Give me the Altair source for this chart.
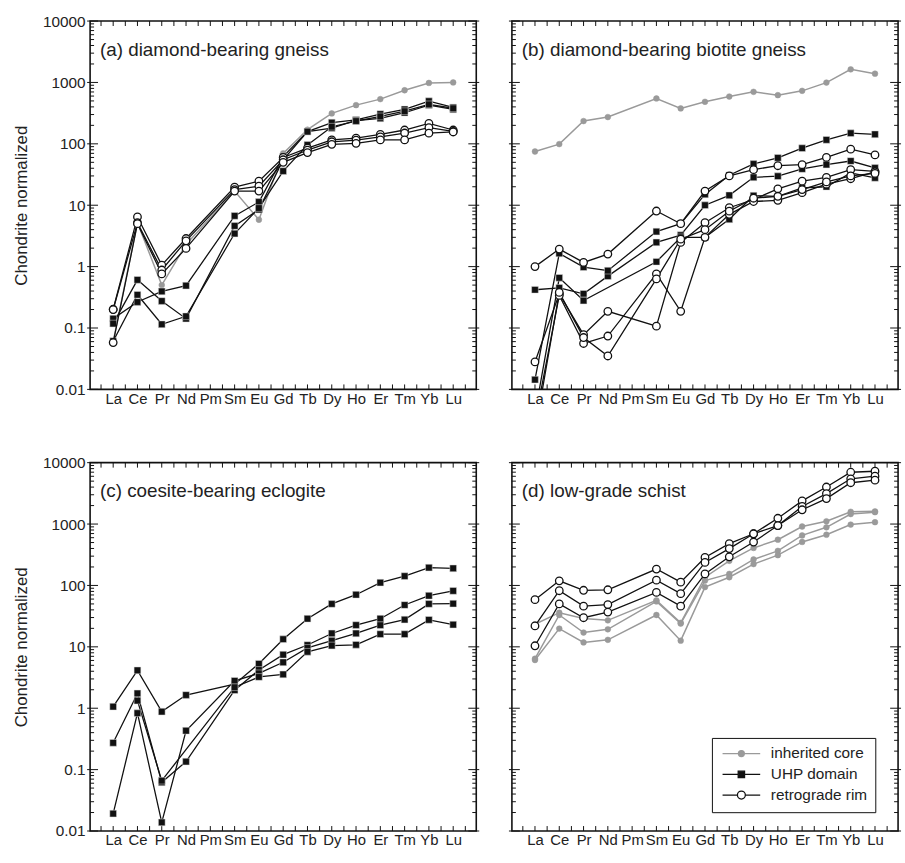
import altair as alt
import pandas as pd

FONT = "Liberation Sans"
GRAY = "#9a9a9a"
BLACK = "#111111"

ELEMENTS = ["La", "Ce", "Pr", "Nd", "Pm", "Sm", "Eu", "Gd", "Tb", "Dy", "Ho", "Er", "Tm", "Yb", "Lu"]
ZNUM = [57, 58, 59, 60, 61, 62, 63, 64, 65, 66, 67, 68, 69, 70, 71]
TYPES = ["inherited core", "UHP domain", "retrograde rim"]
TITLES = ["(a) diamond-bearing gneiss", "(b) diamond-bearing biotite gneiss",
          "(c) coesite-bearing eclogite", "(d) low-grade schist"]
Y_LABEL = "Chondrite normalized"

# ---- panel (a) ----
A_CORE = [
    [0.06, 5.2, 0.5, 2.3, None, 17, 5.8, 70, 170, 313, 427, 535, 746, 982, 1000],
]
A_UHP = [
    [0.142, 0.265, 0.394, 0.49, None, 6.7, 11.3, 62, 158, 222, 245, 306, 364, 495, 392],
    [0.118, 0.608, 0.275, 0.142, None, 4.6, 8.5, 55, 158, 180, 240, 260, 321, 427, 364],
    [0.061, 0.348, 0.115, 0.155, None, 3.46, 9.0, 36, 96, 190, 235, 280, 340, 440, 380],
]
A_RIM = [
    [0.202, 6.44, 1.06, 2.87, None, 19.7, 24.6, 60, 85, 116, 124, 143, 168, 216, 168],
    [0.2, 5.2, 0.88, 2.63, None, 18, 20.4, 55, 79, 108, 115, 130, 150, 184, 160],
    [0.058, 5.0, 0.76, 1.98, None, 17, 17, 50, 72, 98, 102, 116, 116, 149, 156],
]
# ---- panel (b) ----
B_CORE = [
    [75, 99, 235, 273, None, 548, 378, 484, 590, 703, 621, 730, 995, 1633, 1390],
]
B_UHP = [
    [0.42, 0.45, 0.36, 0.70, None, 2.48, 3.25, 10, 14.5, 28.5, 29.7, 39, 46, 52.5, 40.5],
    [0.0144, 1.64, 0.98, 0.86, None, 3.73, 5.0, 15, 30.8, 47, 59, 85, 116, 149, 143],
    [0.004, 0.656, 0.28, None, None, 1.2, 3.0, 3.0, 5.9, 14.3, 13.9, 19.2, 20, 33.6, 27.9],
]
B_RIM = [
    [1.0, 1.93, 1.17, 1.6, None, 8.05, 5.0, 17, 30, 38, 44, 45.7, 60, 82, 66],
    [0.028, 0.36, 0.078, 0.187, None, 0.107, 2.48, 5.2, 9.1, 12.4, 18.5, 24.6, 28.5, 38, 35.7],
    [0.003, 0.34, 0.056, 0.074, None, 0.76, 0.187, 3.0, 7.1, 11.5, 12, 16, 22, 27, 35],
    [0.002, 0.38, 0.07, 0.035, None, 0.63, 2.8, 4.0, 8.0, 13, 14, 18, 24, 30, 33],
]
# ---- panel (c) ----
C_UHP = [
    [1.06, 4.14, 0.88, 1.64, None, 2.46, 5.3, 13.3, 28.7, 50, 70.6, 111, 142, 195, 190],
    [0.273, 1.74, 0.062, 0.135, None, 1.97, 4.2, 7.45, 10.7, 16.5, 22.6, 28.7, 48, 68, 81.5],
    [0.0192, 0.83, 0.0138, 0.43, None, 2.79, 3.7, 5.6, 9.6, 12.6, 16.5, 22.5, 27.8, 50, 50.5],
    [None, 1.33, 0.066, None, None, 2.2, 3.23, 3.55, 8.3, 10.5, 10.8, 16.1, 16.1, 27.5, 23],
]
# ---- panel (d) ----
D_CORE = [
    [23.3, 36, 29, 27, None, 57, 24.6, 136, 252, 408, 556, 912, 1109, 1585, 1610],
    [6.4, 33, 17.1, 19.3, None, 55, 23.9, 120, 154, 265, 366, 653, 885, 1456, 1560],
    [6.1, 19.8, 11.8, 13, None, 33, 12.6, 94, 136, 223, 311, 511, 670, 980, 1072],
]
D_RIM = [
    [58.7, 119, 83.4, 85, None, 185, 113, 286, 480, 695, 1242, 2386, 4010, 6980, 7250],
    [21.9, 82, 46, 48.8, None, 122, 73.5, 237, 398, 695, 944, 1936, 3133, 5460, 6020],
    [10.4, 50, 29.8, 36.8, None, 77, 46, 154, 293, 510, 944, 1709, 2600, 4710, 5190],
]

Y_MAJOR = [0.01, 0.1, 1, 10, 100, 1000, 10000]
Y_MINOR = [m * 10.0 ** e for e in range(-2, 4) for m in range(2, 10)]
X_TICKS = [56.5 + 0.5 * i for i in range(31)]

W, H = 390, 372


def long_df(series_list, kind):
    rows = []
    for i, s in enumerate(series_list):
        for z, el, v in zip(ZNUM, ELEMENTS, s):
            if v is not None:
                rows.append({"Z": z, "el": el, "v": v, "sid": f"{kind}{i}"})
    return pd.DataFrame(rows)


xscale = alt.Scale(domain=[56.05, 71.95], nice=False, zero=False)
yscale = alt.Scale(type="log", domain=[0.01, 10000], nice=False)

label_expr = "[" + ",".join(f"'{e}'" for e in ELEMENTS) + "][datum.value - 57]"
xaxis = alt.Axis(values=ZNUM, labelExpr=label_expr, ticks=False, domain=False, grid=False,
                 title=None, labelPadding=2, labelFontSize=15, labelFont=FONT,
                 labelColor="#222222", labelOverlap=False)


def yaxis_for(show):
    if not show:
        return None
    return alt.Axis(values=Y_MAJOR, format="~g", ticks=False, domain=False, grid=False,
                    labelFontSize=15.5, labelFont=FONT, labelColor="#222222", labelPadding=5,
                    title=Y_LABEL, titleFont=FONT, titleFontSize=17, titleFontWeight="normal",
                    titleColor="#222222", titlePadding=12)


def panel(title, core, uhp, rim, show_y, legend=False):
    yaxis = yaxis_for(show_y)
    X = lambda f: alt.X(f, scale=xscale, axis=xaxis)
    Y = lambda f: alt.Y(f, scale=yscale, axis=yaxis)

    xt = pd.DataFrame({"t": X_TICKS})
    ymaj = pd.DataFrame({"t": Y_MAJOR})
    ymin = pd.DataFrame({"t": Y_MINOR})
    layers = [
        alt.Chart(xt).mark_rule(color=BLACK, strokeWidth=1).encode(
            x=X("t:Q"), y=alt.value(0), y2=alt.value(5)),
        alt.Chart(xt).mark_rule(color=BLACK, strokeWidth=1).encode(
            x=X("t:Q"), y=alt.value(H - 5), y2=alt.value(H)),
        alt.Chart(ymaj).mark_rule(color=BLACK, strokeWidth=1).encode(
            y=Y("t:Q"), x=alt.value(-3), x2=alt.value(8)),
        alt.Chart(ymaj).mark_rule(color=BLACK, strokeWidth=1).encode(
            y=Y("t:Q"), x=alt.value(W - 8), x2=alt.value(W + 3)),
        alt.Chart(ymin).mark_rule(color=BLACK, strokeWidth=1).encode(
            y=Y("t:Q"), x=alt.value(0), x2=alt.value(4)),
        alt.Chart(ymin).mark_rule(color=BLACK, strokeWidth=1).encode(
            y=Y("t:Q"), x=alt.value(W - 4), x2=alt.value(W)),
        alt.Chart(pd.DataFrame({"t": [title]})).mark_text(
            align="left", baseline="alphabetic", font=FONT, fontSize=19, color="#222222"
        ).encode(x=alt.value(10), y=alt.value(35), text="t:N"),
    ]
    if core:
        d = long_df(core, "core")
        layers.append(alt.Chart(d).mark_line(color=GRAY, strokeWidth=1.5, clip=True).encode(
            x=X("Z:Q"), y=Y("v:Q"), detail="sid:N"))
        layers.append(alt.Chart(d).mark_point(shape="circle", filled=True, fill=GRAY, stroke=GRAY,
                                              strokeWidth=0.5, size=34, opacity=1, clip=True).encode(
            x=X("Z:Q"), y=Y("v:Q")))
    if uhp:
        d = long_df(uhp, "uhp")
        layers.append(alt.Chart(d).mark_line(color=BLACK, strokeWidth=1.3, clip=True).encode(
            x=X("Z:Q"), y=Y("v:Q"), detail="sid:N"))
        layers.append(alt.Chart(d).mark_point(shape="square", filled=True, fill=BLACK, stroke="#dddddd",
                                              strokeWidth=0.5, size=46, opacity=1, clip=True).encode(
            x=X("Z:Q"), y=Y("v:Q")))
    if rim:
        d = long_df(rim, "rim")
        layers.append(alt.Chart(d).mark_line(color=BLACK, strokeWidth=1.3, clip=True).encode(
            x=X("Z:Q"), y=Y("v:Q"), detail="sid:N"))
        layers.append(alt.Chart(d).mark_point(shape="circle", filled=True, fill="white", stroke=BLACK,
                                              strokeWidth=1.3, size=58, opacity=1, clip=True).encode(
            x=X("Z:Q"), y=Y("v:Q")))
    if legend:
        paths = [
            "M-3.8,0H3.8M-0.6,0A0.6,0.6,0,1,1,0.6,0A0.6,0.6,0,1,1,-0.6,0Z",
            "M-3.8,0H-0.64M0.64,0H3.8M-0.64,-0.64H0.64V0.64H-0.64Z",
            "M-3.8,0H-0.8M0.8,0H3.8M-0.8,0A0.8,0.8,0,1,1,0.8,0A0.8,0.8,0,1,1,-0.8,0Z",
        ]
        leg = alt.Legend(title=None, orient="none", legendX=628, legendY=724,
                         strokeColor=BLACK, padding=8, rowPadding=4, labelOffset=22,
                         labelFont=FONT, labelFontSize=15.5, labelColor="#222222",
                         symbolSize=100, symbolStrokeWidth=1.3, symbolOffset=14)
        layers.append(alt.Chart(pd.DataFrame({"type": TYPES})).mark_point(
            filled=True, size=100, opacity=1).encode(
            shape=alt.Shape("type:N", scale=alt.Scale(domain=TYPES, range=paths), legend=leg),
            fill=alt.Fill("type:N", scale=alt.Scale(domain=TYPES, range=[GRAY, BLACK, "white"]), legend=leg),
            stroke=alt.Stroke("type:N", scale=alt.Scale(domain=TYPES, range=[GRAY, BLACK, BLACK]), legend=leg),
        ).transform_filter("false"))
    return alt.layer(*layers).properties(width=W, height=H)


pa = panel(TITLES[0], A_CORE, A_UHP, A_RIM, True)
pb = panel(TITLES[1], B_CORE, B_UHP, B_RIM, False)
pc = panel(TITLES[2], None, C_UHP, None, True)
pd_ = panel(TITLES[3], D_CORE, None, D_RIM, False, legend=True)

chart = alt.concat(pa, pb, pc, pd_, columns=2, spacing={"row": 74, "column": 36}, bounds="flush").properties(
    padding={"left": 12, "top": 9, "right": 2, "bottom": 5}
).configure_view(stroke=BLACK, strokeWidth=1.6)

chart.save("out.html", embed_options={"renderer": "svg", "actions": False})
